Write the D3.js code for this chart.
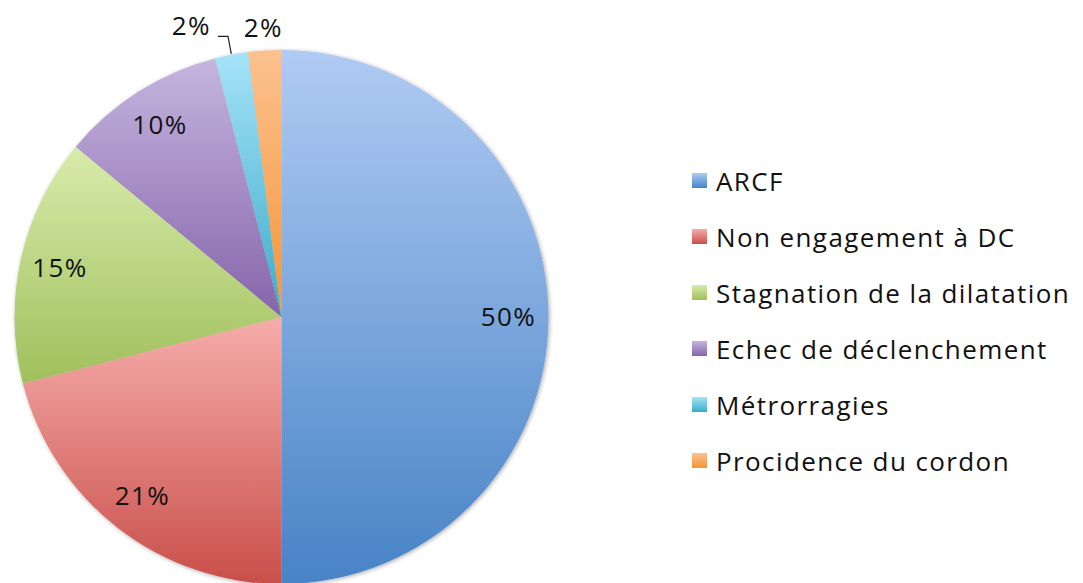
<!DOCTYPE html>
<html>
<head>
<meta charset="utf-8">
<script src="https://cdn.jsdelivr.net/npm/d3@7"></script>
<style>
  html, body { margin: 0; padding: 0; background: #ffffff; }
  svg { display: block; }
  text { font-family: "Open Sans", Lato, sans-serif; fill: #111; letter-spacing: 1.4px; }
</style>
</head>
<body>
<svg id="chart" width="1083" height="583"></svg>
<script>
// Indications de césarienne (%)
const categories = [
  "ARCF",
  "Non engagement à DC",
  "Stagnation de la dilatation",
  "Echec de déclenchement",
  "Métrorragies",
  "Procidence du cordon"
];
const values = [50, 21, 15, 10, 2, 2];
// gradient stops per slice: light (top) -> dark (bottom)
const lightColors = ["#b0cbf3", "#f6adab", "#d8ebab", "#c5b5de", "#a6e3f8", "#fcc190"];
const darkColors  = ["#4783c6", "#c94f4a", "#a0c05c", "#8664ab", "#3aabc9", "#f29536"];

const width = 1083, height = 583;
const cx = 281.5, cy = 317, radius = 267;
const fontSize = 26;

const svg = d3.select("#chart");
const defs = svg.append("defs");

categories.forEach((c, i) => {
  const g = defs.append("linearGradient")
    .attr("id", "grad" + i)
    .attr("x1", 0).attr("y1", 0).attr("x2", 0).attr("y2", 1);
  g.append("stop").attr("offset", "0%").attr("stop-color", lightColors[i]);
  g.append("stop").attr("offset", "100%").attr("stop-color", darkColors[i]);
});

// soft shadow under the pie
const f = defs.append("filter").attr("id", "shadow")
  .attr("x", "-10%").attr("y", "-10%").attr("width", "120%").attr("height", "120%");
f.append("feGaussianBlur").attr("in", "SourceAlpha").attr("stdDeviation", 2).attr("result", "b");
f.append("feOffset").attr("in", "b").attr("dx", 1).attr("dy", 1).attr("result", "o");
f.append("feComponentTransfer").attr("in", "o").attr("result", "s")
  .append("feFuncA").attr("type", "linear").attr("slope", 0.35);
const m = f.append("feMerge");
m.append("feMergeNode").attr("in", "s");
m.append("feMergeNode").attr("in", "SourceGraphic");

const data = categories.map((c, i) => ({ name: c, value: values[i], index: i }));

const pie = d3.pie().value(d => d.value).sort(null);
const arcs = pie(data);

const arc = d3.arc().innerRadius(0).outerRadius(radius);

const g = svg.append("g").attr("transform", `translate(${cx},${cy})`);

g.append("g").attr("filter", "url(#shadow)")
  .selectAll("path")
  .data(arcs)
  .join("path")
  .attr("d", arc)
  .attr("fill", d => `url(#grad${d.data.index})`);

// labels
const total = d3.sum(values);
const pct = d => Math.round(d.data.value / total * 100) + "%";
const inner = d3.arc().innerRadius(radius * 0.85).outerRadius(radius * 0.85);
const outer = d3.arc().innerRadius(radius * 1.085).outerRadius(radius * 1.085);
const elbowArc = d3.arc().innerRadius(radius * 1.07).outerRadius(radius * 1.07);
const edgeArc = d3.arc().innerRadius(radius * 1.003).outerRadius(radius * 1.003);

const big = arcs.filter(d => d.data.value / total >= 0.05);
const small = arcs.filter(d => d.data.value / total < 0.05);

g.selectAll("text.inside")
  .data(big)
  .join("text")
  .attr("class", "inside")
  .attr("x", d => inner.centroid(d)[0])
  .attr("y", d => inner.centroid(d)[1])
  .attr("text-anchor", "middle")
  .attr("dy", "0.35em")
  .attr("font-size", fontSize)
  .text(pct);

// small slices sit outside; all but the last are pulled aside with a leader
small.forEach((d, k) => {
  const last = k === small.length - 1;
  if (last) {
    const p = outer.centroid(d);
    g.append("text")
      .attr("x", p[0]).attr("y", p[1])
      .attr("text-anchor", "middle")
      .attr("dy", "0.35em")
      .attr("font-size", fontSize)
      .text(pct(d));
  } else {
    const a = edgeArc.centroid(d);
    const e = elbowArc.centroid(d);
    const h = [e[0] - 10, e[1]];
    g.append("polyline")
      .attr("points", [a, e, h].map(p => p.join(",")).join(" "))
      .attr("fill", "none")
      .attr("stroke", "#222")
      .attr("stroke-width", 1.2);
    g.append("text")
      .attr("x", h[0] - 7).attr("y", h[1] - 1)
      .attr("text-anchor", "end")
      .attr("font-size", fontSize)
      .text(pct(d));
  }
});

// legend
const legendX = 692, legendY0 = 191, legendStep = 56;
const legend = svg.append("g");
const rows = legend.selectAll("g")
  .data(data)
  .join("g")
  .attr("transform", (d, i) => `translate(${legendX},${legendY0 + i * legendStep})`);

rows.append("rect")
  .attr("x", 0).attr("y", -18)
  .attr("width", 15).attr("height", 15)
  .attr("fill", d => `url(#grad${d.index})`);

rows.append("text")
  .attr("x", 24).attr("y", 0)
  .attr("font-size", fontSize)
  .text(d => d.name);
</script>
</body>
</html>
